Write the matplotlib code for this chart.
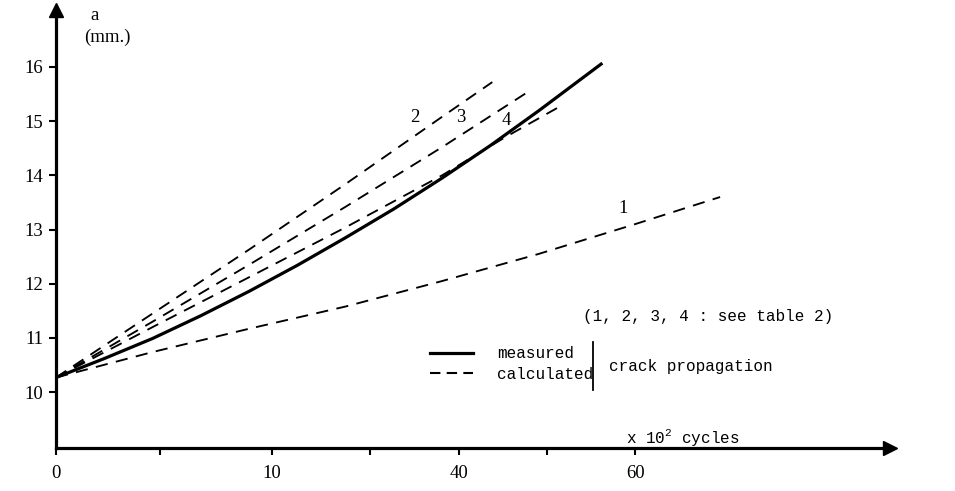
import matplotlib
matplotlib.use("Agg")
import matplotlib.pyplot as plt
from matplotlib.lines import Line2D

# crack length a (mm) against cycles (x 10^2)
meas_x = [0, 5, 10, 15, 20, 25, 30, 35, 40, 45, 50, 56.6]
meas_y = [10.27, 10.62, 10.99, 11.41, 11.86, 12.34, 12.85, 13.38, 13.95, 14.55, 15.19, 16.07]

calc1_x = [0, 10, 20, 30, 40, 50, 60, 68.8]
calc1_y = [10.27, 10.74, 11.17, 11.58, 12.05, 12.55, 13.1, 13.6]

calc2_x = [0, 10, 20, 30, 40, 45.2]
calc2_y = [10.27, 11.45, 12.63, 13.84, 15.08, 15.72]

calc3_x = [0, 10, 20, 30, 40, 48.9]
calc3_y = [10.27, 11.3, 12.35, 13.42, 14.52, 15.54]

calc4_x = [0, 10, 20, 30, 40, 46.5, 51.9]
calc4_y = [10.27, 11.2, 12.12, 13.04, 14.0, 14.7, 15.24]

curve_labels = ["2", "3", "4", "1"]
curve_label_x = [37.2, 41.9, 46.7, 58.8]
curve_label_y = [15.06, 15.06, 15.02, 13.39]

xtick_pos = [0, 10.8, 22.4, 32.5, 41.7, 50.9, 60]
xtick_labels = ["0", "", "10", "", "40", "", "60"]
ytick_pos = [10, 11, 12, 13, 14, 15, 16]

fig = plt.figure(figsize=(9.55, 4.91), dpi=100)
ax = fig.add_axes([56 / 955, (491 - 448) / 491, (890 - 56) / 955, (448 - 10) / 491])
ax.set_xlim(0, 86.4)
ax.set_ylim(8.97, 17.05)

dash = dict(color="black", lw=1.35, dashes=(6.5, 4.5))
ax.plot(meas_x, meas_y, color="black", lw=2.3, solid_capstyle="butt")
ax.plot(calc1_x, calc1_y, **dash)
ax.plot(calc2_x, calc2_y, **dash)
ax.plot(calc3_x, calc3_y, **dash)
ax.plot(calc4_x, calc4_y, **dash)

for lab, lx, ly in zip(curve_labels, curve_label_x, curve_label_y):
    ax.text(lx, ly, lab, family="Liberation Serif", fontsize=13.5, ha="center", va="center")

# axes with arrow heads
for side in ["top", "right"]:
    ax.spines[side].set_visible(False)
for side in ["left", "bottom"]:
    ax.spines[side].set_linewidth(2.3)
ax.plot(0, 1, "^k", ms=10, transform=ax.transAxes, clip_on=False)
ax.plot(1, 0, ">k", ms=10, transform=ax.transAxes, clip_on=False)

ax.set_xticks(xtick_pos)
ax.set_xticklabels(xtick_labels)
ax.set_yticks(ytick_pos)
ax.tick_params(axis="both", width=1.5, length=5, direction="out")
ax.tick_params(axis="x", pad=7)
ax.tick_params(axis="y", pad=4)
for t in ax.get_xticklabels() + ax.get_yticklabels():
    t.set_fontfamily("Liberation Serif")
    t.set_fontsize(13.5)

fig.text(95 / 955, 1 - 15 / 491, "a", family="Liberation Serif", fontsize=13.5, ha="center", va="center")
fig.text(107 / 955, 1 - 37 / 491, "(mm.)", family="Liberation Serif", fontsize=13.5, ha="center", va="center")

mono = "Liberation Mono"
fig.text(683 / 955, 1 - 437 / 491, r"x 10$^{\mathregular{2}}$ cycles", family=mono, fontsize=11.5,
         ha="center", va="center")
fig.text(583 / 955, 1 - 317 / 491, "(1, 2, 3, 4 : see table 2)", family=mono, fontsize=11.5,
         ha="left", va="center")

handles = [Line2D([], [], color="black", lw=2.3),
           Line2D([], [], color="black", lw=1.5, dashes=(5, 3))]
ax.legend(handles, ["measured", "calculated"], loc="center left",
          bbox_to_anchor=(430 / 955, 1 - 364 / 491), bbox_transform=fig.transFigure,
          frameon=False, borderpad=0, borderaxespad=0, handlelength=2.7,
          handletextpad=1.5, labelspacing=0.35, prop={"family": mono, "size": 11.5})
fig.add_artist(Line2D([593 / 955, 593 / 955], [1 - 342 / 491, 1 - 390 / 491],
                      transform=fig.transFigure, color="black", lw=1.3))
fig.text(609 / 955, 1 - 367 / 491, "crack propagation", family=mono, fontsize=11.5,
         ha="left", va="center")

fig.savefig("out.png", dpi=100)
